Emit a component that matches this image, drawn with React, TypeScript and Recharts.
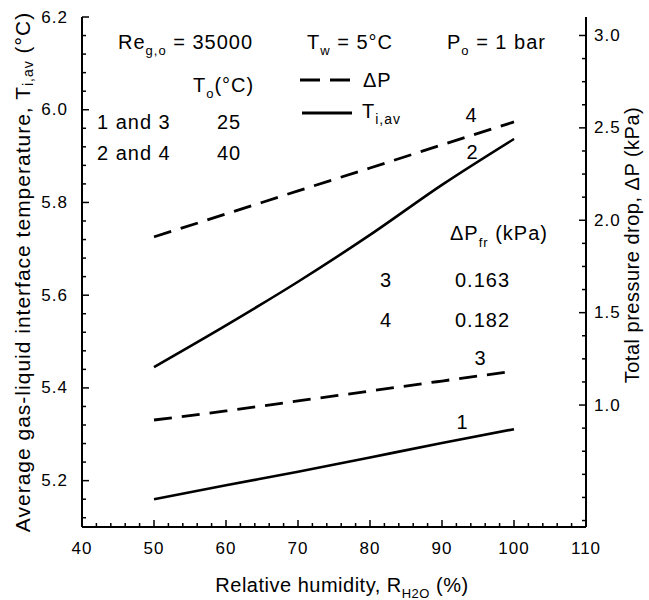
import React from 'react';
import { LineChart, Line, XAxis, YAxis, LabelList } from 'recharts';

// ---------- data ----------
const humidity = [50, 60, 70, 80, 90, 100];
// average gas-liquid interface temperature (left axis)
const tiavCurve1 = [5.16, 5.19, 5.219, 5.25, 5.281, 5.311]; // To = 25 °C
const tiavCurve2 = [5.445, 5.535, 5.629, 5.73, 5.838, 5.937]; // To = 40 °C
// total pressure drop (right axis)
const dpCurve3 = [0.919, 0.968, 1.022, 1.076, 1.13, 1.184]; // To = 25 °C
const dpCurve4 = [1.91, 2.034, 2.159, 2.283, 2.408, 2.532]; // To = 40 °C

const curveNames = ['1', '2', '3', '4'];

const xMajorTicks = [40, 50, 60, 70, 80, 90, 100, 110];
const leftMajorTicks = [5.2, 5.4, 5.6, 5.8, 6.0, 6.2];
const rightMajorTicks = [1.0, 1.5, 2.0, 2.5, 3.0];

const xDomain = [40, 110];
const leftDomain = [5.1, 6.2];
const rightDomain = [0.34, 3.1];

const xMinorStep = 2;
const leftMinorStep = 0.04;
const rightMinorStep = 0.125;

const inputs = [
  { label: '1 and 3', value: '25' },
  { label: '2 and 4', value: '40' },
];
const frictional = [
  { curve: '3', value: '0.163' },
  { curve: '4', value: '0.182' },
];

// ---------- helpers ----------
const range = (from: number, to: number, step: number) => {
  const out: number[] = [];
  for (let v = from; v <= to + 1e-9; v += step) out.push(+v.toFixed(4));
  return out;
};
const xTicks = range(40, 110, xMinorStep);
const leftTicks = range(5.12, 6.2, leftMinorStep);
const rightTicks = range(0.375, 3.0, rightMinorStep);

const data = humidity.map((h, i) => ({
  h,
  t1: tiavCurve1[i],
  t2: tiavCurve2[i],
  p3: dpCurve3[i],
  p4: dpCurve4[i],
}));

const FONT = '"Liberation Sans", Arial, Helvetica, sans-serif';
const isMajor = (v: number, majors: number[]) => majors.some((m) => Math.abs(m - v) < 1e-6);

const BottomTick = (props: any) => {
  const { x, y, payload } = props;
  const major = isMajor(payload.value, xMajorTicks);
  return (
    <g>
      <line x1={x} y1={y} x2={x} y2={y - (major ? 7 : 4)} stroke="#000" strokeWidth={1.5} />
      {major && (
        <text x={x} y={y + 21} textAnchor="middle" dominantBaseline="central" fontFamily={FONT} fontSize={17} letterSpacing={1} fill="#000">
          {payload.value}
        </text>
      )}
    </g>
  );
};

const LeftTick = (props: any) => {
  const { x, y, payload } = props;
  const major = isMajor(payload.value, leftMajorTicks);
  return (
    <g>
      <line x1={x} y1={y} x2={x + (major ? 7 : 4)} y2={y} stroke="#000" strokeWidth={1.5} />
      {major && (
        <text x={x - 14} y={y} textAnchor="end" dominantBaseline="central" fontFamily={FONT} fontSize={17} letterSpacing={1} fill="#000">
          {payload.value.toFixed(1)}
        </text>
      )}
    </g>
  );
};

const RightTick = (props: any) => {
  const { x, y, payload } = props;
  const major = isMajor(payload.value, rightMajorTicks);
  return (
    <g>
      <line x1={x} y1={y} x2={x - (major ? 7 : 4)} y2={y} stroke="#000" strokeWidth={1.5} />
      {major && (
        <text x={x + 8} y={y} textAnchor="start" dominantBaseline="central" fontFamily={FONT} fontSize={17} letterSpacing={1} fill="#000">
          {payload.value.toFixed(1)}
        </text>
      )}
    </g>
  );
};

const curveLabel = (name: string, dx: number, dy: number) => (p: any) =>
  p.index === humidity.length - 1 ? (
    <text x={p.x + dx} y={p.y + dy} textAnchor="middle" dominantBaseline="central" fontFamily={FONT} fontSize={20} fill="#000">
      {name}
    </text>
  ) : null;

const txt = { fontFamily: FONT, fontSize: 20, letterSpacing: 1, fill: '#000' } as const;

export default function App() {
  return (
    <div style={{ position: 'absolute', left: 0, top: 0, width: 649, height: 600, background: '#fff' }}>
      <LineChart
        width={649}
        height={600}
        data={data}
        margin={{ top: 17, right: 10, bottom: 10, left: 10 }}
      >
        <XAxis
          dataKey="h"
          type="number"
          domain={xDomain}
          ticks={xTicks}
          interval={0}
          height={63}
          tickSize={0}
          tickMargin={0}
          tickLine={false}
          axisLine={{ stroke: '#000', strokeWidth: 2 }}
          tick={<BottomTick />}
        />
        <XAxis
          xAxisId="top"
          orientation="top"
          type="number"
          domain={xDomain}
          height={0}
          tick={false}
          tickLine={false}
          axisLine={{ stroke: '#000', strokeWidth: 2 }}
        />
        <YAxis
          yAxisId="left"
          orientation="left"
          type="number"
          domain={leftDomain}
          ticks={leftTicks}
          interval={0}
          width={72}
          tickSize={0}
          tickMargin={0}
          tickLine={false}
          axisLine={{ stroke: '#000', strokeWidth: 2 }}
          tick={<LeftTick />}
        />
        <YAxis
          yAxisId="right"
          orientation="right"
          type="number"
          domain={rightDomain}
          ticks={rightTicks}
          interval={0}
          width={53}
          tickSize={0}
          tickMargin={0}
          tickLine={false}
          axisLine={{ stroke: '#000', strokeWidth: 2 }}
          tick={<RightTick />}
        />
        <Line yAxisId="left" dataKey="t1" type="monotone" stroke="#000" strokeWidth={2.6} dot={false} isAnimationActive={false}>
          <LabelList content={curveLabel(curveNames[0], -52, -7)} />
        </Line>
        <Line yAxisId="left" dataKey="t2" type="monotone" stroke="#000" strokeWidth={2.6} dot={false} isAnimationActive={false}>
          <LabelList content={curveLabel(curveNames[1], -42, 13)} />
        </Line>
        <Line yAxisId="right" dataKey="p3" type="monotone" stroke="#000" strokeWidth={2.8} strokeDasharray="18 10" dot={false} isAnimationActive={false}>
          <LabelList content={curveLabel(curveNames[2], -34, -13)} />
        </Line>
        <Line yAxisId="right" dataKey="p4" type="monotone" stroke="#000" strokeWidth={2.8} strokeDasharray="18 10" dot={false} isAnimationActive={false}>
          <LabelList content={curveLabel(curveNames[3], -43, -7)} />
        </Line>
      </LineChart>

      <svg width={649} height={600} style={{ position: 'absolute', left: 0, top: 0, pointerEvents: 'none' }}>
        {/* header */}
        <text x={118} y={49} {...txt}>
          Re<tspan dy={6} fontSize={13}>g,o</tspan>
          <tspan dy={-6}> = 35000</tspan>
        </text>
        <text x={307} y={49} {...txt}>
          T<tspan dy={6} fontSize={13}>w</tspan>
          <tspan dy={-6}> = 5°C</tspan>
        </text>
        <text x={447} y={49} {...txt}>
          P<tspan dy={6} fontSize={13}>o</tspan>
          <tspan dy={-6}> = 1 bar</tspan>
        </text>
        {/* inlet temperature table */}
        <text x={193} y={92} {...txt}>
          T<tspan dy={6} fontSize={13}>o</tspan>
          <tspan dy={-6}>(°C)</tspan>
        </text>
        {inputs.map((r, i) => (
          <g key={r.label}>
            <text x={97} y={129 + i * 31} {...txt}>{r.label}</text>
            <text x={217} y={129 + i * 31} {...txt}>{r.value}</text>
          </g>
        ))}
        {/* legend */}
        <line x1={300} y1={80} x2={350} y2={80} stroke="#000" strokeWidth={3} strokeDasharray="20 10" />
        <text x={363} y={87} {...txt}>ΔP</text>
        <line x1={302} y1={113} x2={352} y2={113} stroke="#000" strokeWidth={3} />
        <text x={362} y={118} {...txt}>
          T<tspan dy={6} fontSize={14}>i,av</tspan>
        </text>
        {/* frictional pressure drop table */}
        <text x={450} y={240} {...txt}>
          ΔP<tspan dy={7} fontSize={13}>fr</tspan>
          <tspan dy={-7}> (kPa)</tspan>
        </text>
        {frictional.map((r, i) => (
          <g key={r.curve}>
            <text x={380} y={287 + i * 40} {...txt}>{r.curve}</text>
            <text x={455} y={287 + i * 40} {...txt}>{r.value}</text>
          </g>
        ))}
        {/* axis titles */}
        <text x={342} y={592} textAnchor="middle" {...txt} letterSpacing={0.5}>
          Relative humidity, R<tspan dy={6} fontSize={13}>H2O</tspan>
          <tspan dy={-6}> (%)</tspan>
        </text>
        <text
          transform="translate(22,272) rotate(-90)"
          x={0}
          y={0}
          textAnchor="middle"
          dominantBaseline="central"
          {...txt}
          fontSize={21}
          letterSpacing={1}
        >
          Average gas-liquid interface temperature, T<tspan dy={6} fontSize={14}>i,av</tspan>
          <tspan dy={-6}> (°C)</tspan>
        </text>
        <text
          transform="translate(632,245) rotate(-90)"
          x={0}
          y={0}
          textAnchor="middle"
          dominantBaseline="central"
          {...txt}
          letterSpacing={0.5}
        >
          Total pressure drop, ΔP (kPa)
        </text>
      </svg>
    </div>
  );
}
